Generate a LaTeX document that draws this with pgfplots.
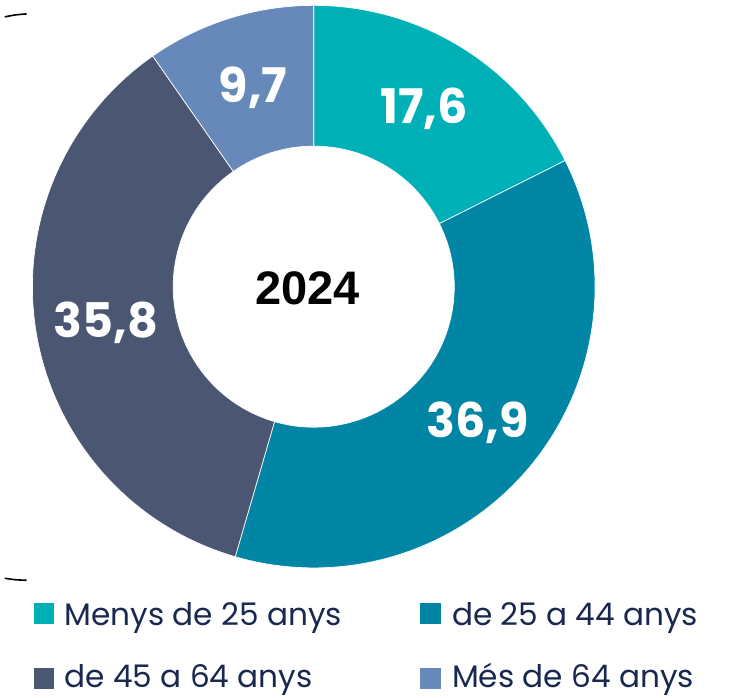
\documentclass[border=0pt]{standalone}
\usepackage{fontspec}
\setmainfont{Poppins}
\newfontfamily\headfont{Liberation Sans}
\usepackage{pgfplots}
\pgfplotsset{compat=1.18}
\definecolor{segA}{HTML}{00B0B7}
\definecolor{segB}{HTML}{0086A4}
\definecolor{segC}{HTML}{4A5672}
\definecolor{segD}{HTML}{6689BA}
\definecolor{legtext}{HTML}{1A284F}

% shares in percent, clockwise from the top
\def\valA{17.6}
\def\valB{36.9}
\def\valC{35.8}
\def\valD{9.7}
\pgfmathsetmacro\angA{90}
\pgfmathsetmacro\angB{\angA-3.6*\valA}
\pgfmathsetmacro\angC{\angB-3.6*\valB}
\pgfmathsetmacro\angD{\angC-3.6*\valC}
\pgfmathsetmacro\angE{\angD-3.6*\valD}

% ring segment: colour, start angle, end angle
\newcommand\ringpart[3]{%
  \fill[#1,draw=white,line width=0.5pt] (axis cs:311,413.5) ++(#2:212.3pt)
    arc[start angle=#2,end angle=#3,radius=212.3pt]
    -- ++(#3:-106.2pt)
    arc[start angle=#3,end angle=#2,radius=106.1pt] -- cycle;}

\begin{document}
\begin{tikzpicture}
\begin{axis}[x=0.75pt,y=0.75pt,xmin=0,xmax=738,ymin=0,ymax=702,
  hide axis,clip=false,scale only axis]
\path (axis cs:0,0) rectangle (axis cs:738,702);
\ringpart{segA}{\angA}{\angB}
\ringpart{segB}{\angB}{\angC}
\ringpart{segC}{\angC}{\angD}
\ringpart{segD}{\angD}{\angE}
\addplot[black,line width=1.2pt,smooth] coordinates {(0,685) (11,687) (22,688)};
\addplot[black,line width=1.2pt,smooth] coordinates {(0,120) (11,118.5) (22,118)};
\node[white,font=\bfseries\fontsize{36}{36}\selectfont] at (axis cs:422,592) {17,6};
\node[white,font=\bfseries\fontsize{36}{36}\selectfont] at (axis cs:250,614) {9,7};
\node[white,font=\bfseries\fontsize{36}{36}\selectfont] at (axis cs:476,277) {36,9};
\node[white,font=\bfseries\fontsize{36}{36}\selectfont] at (axis cs:102,377) {35,8};
\node[black,font=\headfont\bfseries\fontsize{35.5}{36}\selectfont] at (axis cs:305,412) {2024};
% legend
\fill[segA] (axis cs:29.5,74) rectangle (axis cs:50,95);
\fill[segB] (axis cs:418,74) rectangle (axis cs:439,95);
\fill[segC] (axis cs:29.5,9) rectangle (axis cs:50,30);
\fill[segD] (axis cs:418,9) rectangle (axis cs:439,30);
\begin{scope}[every node/.style={anchor=base west,inner sep=0pt,text=legtext,font=\fontsize{23.5}{24}\selectfont}]
\node at (axis cs:60,72.7) {Menys de 25 anys};
\node at (axis cs:450,72.7) {de 25 a 44 anys};
\node at (axis cs:60,9.7) {de 45 a 64 anys};
\node at (axis cs:450,9.7) {Més de 64 anys};
\end{scope}
\end{axis}
\end{tikzpicture}
\end{document}
